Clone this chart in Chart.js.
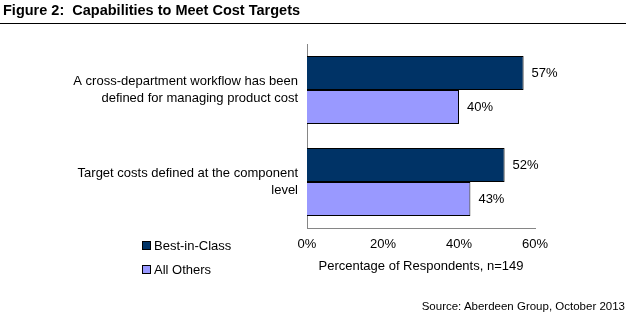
<!DOCTYPE html>
<html>
<head>
<meta charset="utf-8">
<script src="https://cdn.jsdelivr.net/npm/chart.js@4/dist/chart.umd.min.js"></script>
<style>
    body { margin: 0; background: #fff; }
    #wrap { position: relative; width: 629px; height: 324px; font-family: "Liberation Sans", Arial, sans-serif; }
    #title { position: absolute; left: 3px; top: 2px; font-size: 14.5px; font-weight: bold; color: #000; white-space: pre; }
    #rule { position: absolute; left: 0; top: 23px; width: 626px; height: 0; border-top: 1px solid #000; }
    #source { position: absolute; right: 4px; top: 300px; font-size: 11.5px; color: #000; }
    .leg { position: absolute; left: 142px; font-size: 13px; color: #000; }
    .leg span { display: inline-block; width: 7px; height: 7px; border: 1px solid #000; margin-right: 3px; }
    canvas { position: absolute; left: 0; top: 0; }
</style>
</head>
<body>
<div id="wrap">
    <canvas id="chart" width="629" height="324"></canvas>
    <div id="title">Figure 2:  Capabilities to Meet Cost Targets</div>
    <div id="rule"></div>
    <div class="leg" style="top:238px"><span style="background:#003366"></span>Best-in-Class</div>
    <div class="leg" style="top:262px"><span style="background:#9999FF"></span>All Others</div>
    <div id="source">Source: Aberdeen Group, October 2013</div>
</div>
<script>
const categories = [
    ["A cross-department workflow has been", "defined for managing product cost"],
    ["Target costs defined at the component", "level"],
]
const bestInClass = [57, 52]
const allOthers = [40, 43]
const xTicks = [0, 20, 40, 60]

const fontFamily = "'Liberation Sans', Arial, sans-serif"

// value labels at bar ends
const valueLabels = {
    id: "valueLabels",
    afterDatasetsDraw(chart) {
        const ctx = chart.ctx
        ctx.save()
        ctx.font = "13px " + fontFamily
        ctx.fillStyle = "#000"
        ctx.textBaseline = "middle"
        chart.data.datasets.forEach((ds, i) => {
            chart.getDatasetMeta(i).data.forEach((bar, j) => {
                ctx.fillText(ds.data[j] + "%", bar.x + 8, bar.y)
            })
        })
        ctx.restore()
    },
}

new Chart(document.getElementById("chart").getContext("2d"), {
    type: "bar",
    plugins: [valueLabels],
    data: {
        labels: categories,
        datasets: [
            {
                label: "Best-in-Class",
                data: bestInClass,
                backgroundColor: "#003366",
                borderColor: "#000",
                borderWidth: 1,
                categoryPercentage: 0.74,
                barPercentage: 1,
            },
            {
                label: "All Others",
                data: allOthers,
                backgroundColor: "#9999FF",
                borderColor: "#000",
                borderWidth: 1,
                categoryPercentage: 0.74,
                barPercentage: 1,
            },
        ],
    },
    options: {
        indexAxis: "y",
        responsive: false,
        animation: false,
        layout: {
            padding: { left: 0, right: 94, top: 44, bottom: 46 },
        },
        plugins: {
            legend: { display: false },
            tooltip: { enabled: false },
        },
        scales: {
            y: {
                afterFit: (scale) => {
                    scale.width = 307
                },
                grid: { display: false, drawTicks: false },
                border: { color: "#868686" },
                ticks: {
                    color: "#000",
                    padding: 9,
                    font: { family: fontFamily, size: 13, lineHeight: 1.25 },
                },
            },
            x: {
                min: 0,
                max: 60,
                afterFit: (scale) => {
                    scale.height = 50
                },
                afterBuildTicks: (scale) => {
                    scale.ticks = xTicks.map((v) => ({ value: v }))
                },
                grid: { display: false, drawTicks: false },
                border: { color: "#868686" },
                ticks: {
                    color: "#000",
                    padding: 9,
                    font: { family: fontFamily, size: 13 },
                    callback: (val) => val + "%",
                },
                title: {
                    display: true,
                    text: "Percentage of Respondents, n=149",
                    color: "#000",
                    padding: { top: 3 },
                    font: { family: fontFamily, size: 13 },
                },
            },
        },
    },
})
</script>
</body>
</html>
